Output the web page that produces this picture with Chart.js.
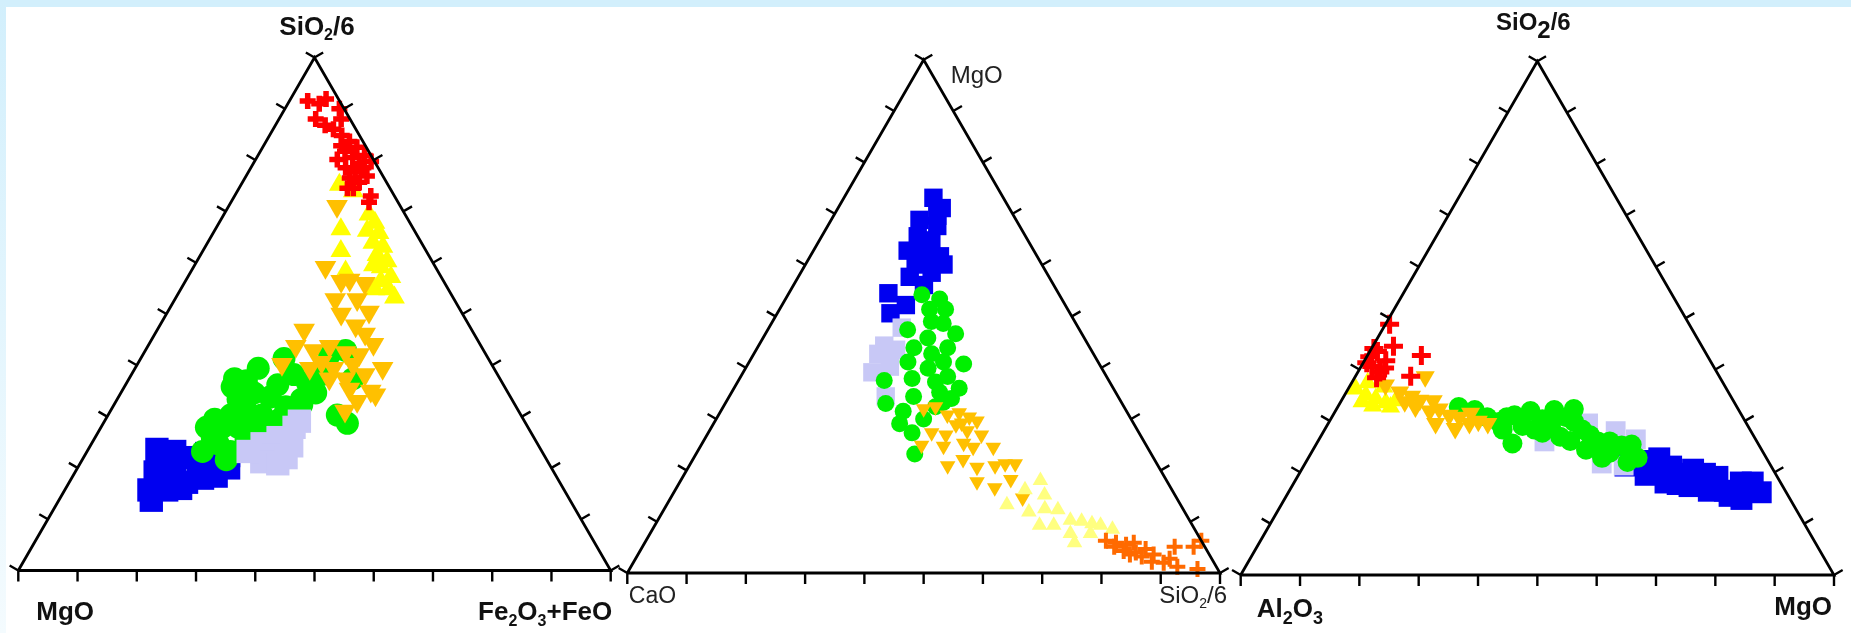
<!DOCTYPE html>
<html lang="en">
<head>
  <meta charset="UTF-8">
  <title>Ternary diagrams</title>
  <script src="https://cdn.jsdelivr.net/npm/chart.js"></script>
  <style>
    html, body { margin: 0; padding: 0; }
    body { width: 1851px; height: 633px; position: relative; overflow: hidden; background: #fff; }
    #frame-top { position: absolute; left: 0; top: 0; width: 1851px; height: 7px; background: #d2effc; }
    #frame-left { position: absolute; left: 0; top: 0; width: 6px; height: 633px; background: linear-gradient(#d2effc, #f4fbfe); }
    canvas { position: absolute; left: 0; top: 0; }
  </style>
</head>
<body>
  <div id="frame-top"></div>
  <div id="frame-left"></div>
  <canvas id="tri1" width="1851" height="633"></canvas>
  <canvas id="tri2" width="1851" height="633"></canvas>
  <canvas id="tri3" width="1851" height="633"></canvas>

  <script>
    // every point is [top, left, right] in %
    const tickValues = [0, 10, 20, 30, 40, 50, 60, 70, 80, 90, 100];

    // diagram 1: SiO2/6 (top), MgO (left), Fe2O3+FeO (right)
    const t1Red = [[91.5,5.4,3.1],[91.0,3.7,5.3],[91.9,2.1,6.0],[90.0,0.8,9.2],[88.0,1.5,10.5],[88.0,5.8,6.2],[86.8,4.8,8.4],[86.0,3.8,10.2],[84.8,3.0,12.2],[83.6,2.3,14.1],[82.5,1.6,15.9],[80.9,1.1,18.0],[79.7,0.6,19.7],[81.7,4.0,14.3],[80.5,3.3,16.2],[80.1,6.1,13.8],[78.5,5.5,16.0],[77.7,4.3,18.0],[78.5,2.5,19.0],[76.5,5.8,17.7],[75.7,4.6,19.7],[76.9,2.7,20.4],[74.5,6.2,19.3],[73.0,4.0,23.0],[71.8,4.9,23.3],[82.8,4.1,13.1],[79.3,2.8,17.9],[74.5,7.2,18.3]];
    const t1Yellow = [[75.2,8.2,16.6],[73.9,6.5,19.6],[69.4,6.1,24.5],[67.8,5.9,26.3],[66.2,8.0,25.8],[65.8,6.2,28.0],[63.9,8.2,27.9],[63.1,6.9,30.0],[61.5,8.7,29.8],[60.3,7.6,32.1],[59.1,9.2,31.7],[57.2,8.5,34.3],[56.4,10.6,33.0],[54.8,10.1,35.1],[53.2,9.9,36.9],[54.8,12.4,32.8],[66.5,12.3,21.2],[62.3,14.4,23.3],[58.3,15.6,26.1],[59.5,10.3,30.2]];
    const t1Gold = [[71.0,10.7,18.3],[59.1,18.6,22.3],[56.4,17.3,26.3],[56.0,13.5,30.5],[52.8,20.1,27.1],[52.8,16.4,30.8],[50.0,20.5,29.5],[50.4,15.6,34.0],[47.7,19.2,33.1],[46.1,18.4,35.5],[44.1,18.0,37.9],[46.9,28.3,24.8],[43.7,31.3,25.0],[42.9,28.7,28.4],[43.7,25.6,30.7],[42.5,23.5,34.0],[42.1,21.4,36.5],[40.2,23.4,36.4],[40.6,28.5,30.9],[39.4,27.1,33.5],[39.4,31.1,29.5],[40.2,35.4,24.4],[37.4,26.1,36.5],[38.2,22.4,39.4],[39.4,18.8,41.8],[35.0,23.0,42.0],[35.4,26.4,38.2],[33.0,26.3,40.7],[31.1,29.3,39.6],[37.4,28.8,33.8],[34.6,22.8,43.6],[57.2,15.9,27.9]];
    const t1Green = [[42.9,23.3,33.8],[42.1,26.4,31.5],[34.6,32.5,32.9],[33.4,35.5,31.1],[38.2,34.4,27.4],[41.3,34.5,24.2],[36.2,38.1,25.7],[39.4,39.8,20.8],[37.0,43.0,20.0],[35.8,46.0,18.2],[33.4,46.2,20.4],[34.6,42.9,22.5],[33.8,40.6,25.6],[31.9,38.9,29.2],[29.5,41.1,29.4],[30.3,43.7,26.0],[31.1,45.9,23.0],[30.3,49.0,20.7],[29.5,52.1,18.4],[27.9,54.3,17.8],[27.9,51.6,20.5],[27.9,48.9,23.2],[28.7,45.8,25.5],[27.9,43.6,28.5],[23.2,57.3,19.5],[24.7,53.9,21.4],[23.2,52.6,24.2],[21.6,54.1,24.3],[25.5,48.8,25.7],[26.3,46.1,27.6],[30.3,31.0,38.7],[28.7,30.1,41.2],[37.4,24.8,37.8],[38.2,29.7,32.1],[36.6,32.9,30.5],[25.9,54.3,19.8],[37.4,44.8,17.8],[32.3,36.0,31.7]];
    const t1Lavender = [[24.7,46.5,28.8],[25.9,43.2,30.9],[27.9,39.5,32.6],[22.4,45.7,31.9],[21.2,48.3,30.5],[22.0,43.8,34.2],[24.3,41.7,34.0],[20.8,45.8,33.4],[23.2,49.6,27.2],[29.1,38.0,32.9]];
    const t1Blue = [[23.6,64.8,11.6],[23.2,62.0,14.8],[22.0,59.9,18.1],[22.8,56.8,20.4],[21.6,54.8,23.6],[20.0,54.5,25.5],[18.4,57.4,24.2],[18.0,59.9,22.1],[17.2,63.0,19.8],[16.8,65.8,17.4],[17.6,67.8,14.6],[15.7,70.1,14.2],[13.7,70.7,15.6],[15.7,67.1,17.2],[16.0,64.6,19.4],[19.6,59.8,20.6],[20.8,65.9,13.3],[20.0,63.6,16.4],[20.4,55.4,22.2],[19.2,67.3,13.5],[22.4,53.3,24.3]];

    // diagram 2: MgO (top), CaO (left), SiO2/6 (right)
    const t2Blue = [[73.1,11.8,15.1],[71.1,11.4,17.5],[68.8,16.3,14.9],[67.6,13.9,18.5],[65.6,18.2,16.2],[64.8,16.3,18.9],[62.8,21.3,15.9],[62.5,18.7,18.8],[60.1,16.6,23.3],[60.1,21.3,18.6],[58.5,19.4,22.1],[57.7,23.5,18.8],[56.1,21.9,22.0],[54.5,28.7,16.8],[52.2,26.9,20.9],[50.6,30.3,19.1],[69.6,12.9,17.5],[61.7,16.4,21.9],[60.5,19.1,20.4]];
    const t2Lavender = [[47.8,29.8,22.4],[44.3,34.5,21.2],[43.5,32.9,23.6],[39.1,39.1,21.8],[40.2,35.6,24.2],[34.4,39.2,26.4],[42.7,36.3,21.0]];
    const t2Green = [[54.2,23.2,22.6],[53.4,20.6,26.0],[51.4,20.6,28.0],[51.4,23.3,25.3],[49.0,24.2,26.8],[48.6,22.4,29.0],[46.6,21.3,32.1],[45.8,26.4,27.8],[47.4,29.0,23.6],[43.9,29.7,26.4],[43.9,24.0,32.1],[42.7,27.3,30.0],[41.1,32.1,26.8],[40.7,22.9,36.4],[41.1,26.1,32.8],[39.9,29.3,30.8],[37.9,33.0,29.1],[37.2,29.4,33.4],[38.3,26.8,34.9],[36.0,26.0,38.0],[35.2,29.7,35.1],[37.5,37.9,24.6],[34.4,34.5,31.1],[34.0,28.3,37.7],[33.0,39.9,27.1],[31.5,37.7,30.8],[30.0,35.0,35.0],[29.1,39.5,31.4],[27.3,38.3,34.4],[23.2,39.9,36.9],[32.4,31.8,35.8],[33.2,30.1,36.7]];
    const t2Gold = [[32.0,34.0,34.0],[32.4,31.8,35.8],[30.8,30.6,38.6],[31.2,28.4,40.4],[30.4,27.1,42.5],[29.6,26.2,44.2],[28.9,30.1,41.0],[27.7,28.8,43.5],[26.9,26.8,46.3],[27.3,35.0,37.7],[26.9,32.8,40.3],[24.9,37.9,37.2],[24.7,34.3,41.0],[25.3,30.6,44.1],[24.5,29.4,46.1],[24.5,26.0,49.5],[22.1,32.3,45.6],[20.9,35.5,43.6],[20.6,30.7,48.7],[20.9,27.5,51.6],[21.3,25.6,53.1],[21.3,23.9,54.8],[17.8,32.1,50.1],[16.6,29.7,53.7],[18.2,26.2,55.6],[14.6,26.0,59.4],[29.2,29.0,41.8]];
    const t2PaleYellow = [[18.0,21.3,60.7],[15.2,22.0,62.8],[16.2,24.8,59.0],[13.3,29.3,57.4],[11.9,26.3,61.8],[12.5,23.3,64.2],[12.3,21.2,66.5],[9.3,25.8,64.9],[9.3,23.4,67.3],[10.3,20.1,69.6],[10.1,18.3,71.6],[9.6,16.8,73.6],[9.3,15.5,75.2],[8.5,13.9,77.6],[5.9,21.6,72.5],[7.7,18.0,74.3],[7.7,21.4,70.9]];
    const t2Orange = [[6.3,16.1,77.6],[5.9,14.6,79.5],[5.5,13.1,81.4],[5.9,11.6,82.5],[4.3,14.1,81.6],[4.0,12.2,83.8],[4.7,10.2,85.1],[3.2,11.6,85.2],[3.6,9.4,87.0],[2.2,10.4,87.4],[2.0,8.5,89.5],[2.8,7.1,90.1],[1.2,6.6,92.2],[5.1,5.1,89.8],[5.1,1.9,93.0],[6.3,0.0,93.7],[0.8,3.4,95.8],[3.6,13.4,83.0],[5.1,15.3,79.6]];

    // diagram 3: SiO2/6 (top), Al2O3 (left), MgO (right)
    const t3Red = [[48.8,50.5,0.7],[44.5,52.0,3.5],[42.7,48.2,9.1],[38.7,52.0,9.3],[42.5,57.0,0.5],[43.5,55.2,1.3],[41.7,54.7,3.6],[40.6,57.6,1.8],[39.5,56.8,3.7],[41.3,58.1,0.6],[40.3,55.6,4.1],[38.4,57.9,3.7],[44.1,55.5,0.4]];
    const t3Yellow = [[36.2,62.5,1.3],[35.0,61.4,3.6],[34.3,60.1,5.6],[33.5,58.8,7.7],[33.9,56.9,9.2],[33.7,62.7,3.6],[32.9,61.3,5.8],[36.6,57.6,5.8],[32.7,58.4,8.9],[37.4,59.9,2.7]];
    const t3Gold = [[37.0,57.1,5.9],[35.6,55.4,9.0],[34.8,53.8,11.4],[38.6,49.6,11.8],[32.7,54.2,13.1],[31.9,52.2,15.9],[32.3,50.4,17.3],[31.1,49.3,19.6],[30.7,47.8,21.5],[29.5,46.7,23.8],[29.9,45.0,25.1],[29.5,43.6,26.9],[29.5,52.4,18.1],[28.5,49.6,21.9],[34.0,52.8,13.2],[33.7,55.5,10.8],[33.9,50.6,15.5],[31.5,45.5,23.0]];
    const t3Green = [[32.7,46.9,20.4],[32.1,44.5,23.4],[30.7,43.1,26.2],[29.8,41.6,28.6],[30.7,39.8,29.5],[31.1,38.3,30.6],[31.9,35.2,32.9],[30.3,34.0,35.7],[32.1,31.1,36.8],[30.7,29.8,39.5],[29.8,28.9,41.3],[28.3,28.3,43.4],[27.2,27.5,45.3],[26.0,26.8,47.2],[26.0,24.8,49.2],[25.2,23.2,51.6],[25.4,21.4,53.2],[22.8,21.7,55.5],[22.0,23.8,54.2],[22.8,27.7,49.5],[24.4,29.6,46.0],[26.1,31.4,42.5],[26.9,32.7,40.4],[27.7,35.3,37.0],[28.3,36.3,35.4],[25.6,41.4,33.0],[29.0,38.0,33.0],[29.0,33.2,37.8],[32.3,27.7,40.0],[23.8,25.9,50.3],[28.3,41.7,30.0]];
    const t3Lavender = [[26.0,35.8,38.2],[29.5,26.7,43.8],[28.0,22.8,49.2],[21.7,28.3,50.0],[21.3,24.8,53.9],[26.4,20.2,53.4]];
    const t3Blue = [[21.3,24.5,54.2],[22.2,21.0,56.8],[22.7,18.1,59.2],[21.1,16.9,62.0],[18.0,19.4,62.6],[19.7,15.9,64.4],[20.5,13.5,66.0],[19.7,11.9,68.4],[19.1,10.1,70.8],[17.3,15.7,67.0],[16.4,12.9,70.7],[16.4,10.2,73.4],[18.0,6.7,75.3],[18.0,4.7,77.3],[16.1,4.3,79.6],[14.8,8.2,77.0],[15.4,9.9,74.7],[19.5,22.0,58.5],[20.1,19.0,60.9],[17.7,17.5,64.8]];

    const PAGE_W = 1851, PAGE_H = 633;
    const FONT = '"Liberation Sans", Arial, Helvetica, sans-serif';

    function ternaryXY(p) {
      const s = p[0] + p[1] + p[2];
      const top = p[0] / s, right = p[2] / s;
      return { x: right + top / 2, y: top };
    }

    // rich text with subscripts written as SiO_2_/6
    function drawRich(ctx, text, x, y, lab) {
      const parts = text.split('_').map((t, i) => ({ t, sub: i % 2 === 1 }));
      const fontFor = sub => `${lab.weight} ${sub ? Math.round(lab.size * lab.subScale) : lab.size}px ${FONT}`;
      let w = 0;
      parts.forEach(p => { ctx.font = fontFor(p.sub); w += ctx.measureText(p.t).width; });
      let cx = lab.align === 'center' ? x - w / 2 : lab.align === 'right' ? x - w : x;
      ctx.textAlign = 'left';
      ctx.textBaseline = 'alphabetic';
      parts.forEach(p => {
        ctx.font = fontFor(p.sub);
        ctx.fillText(p.t, cx, y + (p.sub ? lab.subDrop : 0));
        cx += ctx.measureText(p.t).width;
      });
    }

    const ternaryFrame = {
      id: 'ternaryFrame',
      afterDatasetsDraw(chart, args, opts) {
        const { ctx } = chart;
        const sx = chart.scales.x, sy = chart.scales.y;
        const P = (tx, ty) => [sx.getPixelForValue(tx), sy.getPixelForValue(ty)];
        const c = Math.cos(Math.PI / 6), s = 0.5, len = opts.tickLen;
        ctx.save();
        ctx.strokeStyle = '#000';
        ctx.lineWidth = opts.tickWidth;
        ctx.lineCap = 'butt';
        tickValues.forEach(v => {
          const f = v / 100;
          ctx.beginPath();
          let [px, py] = P(f, 0);
          ctx.moveTo(px, py); ctx.lineTo(px, py + len + 1);
          [px, py] = P(f / 2, f);
          ctx.moveTo(px, py); ctx.lineTo(px - c * len, py - s * len);
          [px, py] = P(1 - f / 2, f);
          ctx.moveTo(px, py); ctx.lineTo(px + c * len, py - s * len);
          ctx.stroke();
        });
        const corners = { top: P(0.5, 1), left: P(0, 0), right: P(1, 0) };
        ctx.fillStyle = opts.textColor;
        opts.labels.forEach(lab => {
          const [cx, cy] = corners[lab.corner];
          drawRich(ctx, lab.text, cx + lab.dx, cy + lab.dy, lab);
        });
        ctx.restore();
      }
    };

    function series(data, style) {
      return Object.assign({
        data: data.map(ternaryXY),
        pointBorderWidth: 0,
        pointBorderColor: style.pointBackgroundColor
      }, style);
    }

    function makeChart(id, place, datasets, labels, textColor) {
      const H = place.width * Math.sqrt(3) / 2;
      const outline = {
        data: [[0, 100, 0], [0, 0, 100], [100, 0, 0], [0, 100, 0]].map(ternaryXY),
        showLine: true,
        borderColor: '#000',
        borderWidth: 2.8,
        pointRadius: 0,
        fill: false
      };
      return new Chart(document.getElementById(id), {
        type: 'scatter',
        data: { datasets: [outline, ...datasets] },
        options: {
          responsive: false,
          animation: false,
          events: [],
          layout: { padding: 0, autoPadding: false },
          scales: {
            x: { type: 'linear', display: false, bounds: 'data', min: -place.left / place.width, max: (PAGE_W - place.left) / place.width },
            y: { type: 'linear', display: false, bounds: 'data', min: -(PAGE_H - place.base) / H, max: place.base / H }
          },
          plugins: {
            legend: { display: false },
            tooltip: { enabled: false },
            ternaryFrame: { tickLen: 10, tickWidth: 2.4, labels, textColor }
          }
        },
        plugins: [ternaryFrame]
      });
    }

    const RED = '#ff0000', GOLD = '#ffc000', YELLOW = '#ffff00', GREEN = '#00f000',
          LAVENDER = '#c8c8f6', BLUE = '#0000f0', PALE = '#ffff80', ORANGE = '#ff6a00';

    // first dataset is drawn on top
    makeChart('tri1', { left: 18.3, width: 592.4, base: 570.5 }, [
      series(t1Red, { pointStyle: 'cross', pointRadius: 8, pointBorderWidth: 5.5, pointBorderColor: RED, pointBackgroundColor: RED }),
      series(t1Gold, { pointStyle: 'triangle', pointRotation: 180, pointRadius: 12.5, pointBackgroundColor: GOLD }),
      series(t1Yellow, { pointStyle: 'triangle', pointRadius: 12, pointBackgroundColor: YELLOW }),
      series(t1Lavender, { pointStyle: 'rect', pointRadius: 16.5, pointBackgroundColor: LAVENDER }),
      series(t1Green, { pointStyle: 'circle', pointRadius: 11.5, pointBackgroundColor: GREEN }),
      series(t1Blue, { pointStyle: 'rect', pointRadius: 16.5, pointBackgroundColor: BLUE })
    ], [
      { text: 'SiO_2_/6', corner: 'top', dx: 2.5, dy: -22, align: 'center', weight: 'bold', size: 26, subScale: 0.62, subDrop: 5 },
      { text: 'MgO', corner: 'left', dx: 18, dy: 49, align: 'left', weight: 'bold', size: 26, subScale: 0.6, subDrop: 6 },
      { text: 'Fe_2_O_3_+FeO', corner: 'right', dx: 1.5, dy: 49.5, align: 'right', weight: 'bold', size: 26, subScale: 0.6, subDrop: 6 }
    ], '#111');

    makeChart('tri2', { left: 627.3, width: 592.7, base: 573 }, [
      series(t2Orange, { pointStyle: 'cross', pointRadius: 8, pointBorderWidth: 4, pointBorderColor: ORANGE, pointBackgroundColor: ORANGE }),
      series(t2PaleYellow, { pointStyle: 'triangle', pointRadius: 9, pointBackgroundColor: PALE }),
      series(t2Gold, { pointStyle: 'triangle', pointRotation: 180, pointRadius: 9, pointBackgroundColor: GOLD }),
      series(t2Green, { pointStyle: 'circle', pointRadius: 8.5, pointBackgroundColor: GREEN }),
      series(t2Lavender, { pointStyle: 'rect', pointRadius: 13, pointBackgroundColor: LAVENDER }),
      series(t2Blue, { pointStyle: 'rect', pointRadius: 13, pointBackgroundColor: BLUE })
    ], [
      { text: 'MgO', corner: 'top', dx: 27, dy: 23, align: 'left', weight: 'normal', size: 24, subScale: 0.6, subDrop: 5 },
      { text: 'CaO', corner: 'left', dx: 1.5, dy: 30, align: 'left', weight: 'normal', size: 23, subScale: 0.6, subDrop: 5 },
      { text: 'SiO_2_/6', corner: 'right', dx: 7, dy: 29.5, align: 'right', weight: 'normal', size: 24, subScale: 0.6, subDrop: 5 }
    ], '#222');

    makeChart('tri3', { left: 1240.7, width: 593.3, base: 575 }, [
      series(t3Red, { pointStyle: 'cross', pointRadius: 9.5, pointBorderWidth: 5, pointBorderColor: RED, pointBackgroundColor: RED }),
      series(t3Gold, { pointStyle: 'triangle', pointRotation: 180, pointRadius: 11, pointBackgroundColor: GOLD }),
      series(t3Yellow, { pointStyle: 'triangle', pointRadius: 11, pointBackgroundColor: YELLOW }),
      series(t3Green, { pointStyle: 'circle', pointRadius: 10, pointBackgroundColor: GREEN }),
      series(t3Lavender, { pointStyle: 'rect', pointRadius: 14, pointBackgroundColor: LAVENDER }),
      series(t3Blue, { pointStyle: 'rect', pointRadius: 15.5, pointBackgroundColor: BLUE })
    ], [
      { text: 'SiO_2_/6', corner: 'top', dx: -4, dy: -31.5, align: 'center', weight: 'bold', size: 24, subScale: 1.0, subDrop: 8 },
      { text: 'Al_2_O_3', corner: 'left', dx: 16, dy: 42, align: 'left', weight: 'bold', size: 26, subScale: 0.7, subDrop: 7 },
      { text: 'MgO', corner: 'right', dx: -2, dy: 40, align: 'right', weight: 'bold', size: 26, subScale: 0.6, subDrop: 6 }
    ], '#111');
  </script>
</body>
</html>
